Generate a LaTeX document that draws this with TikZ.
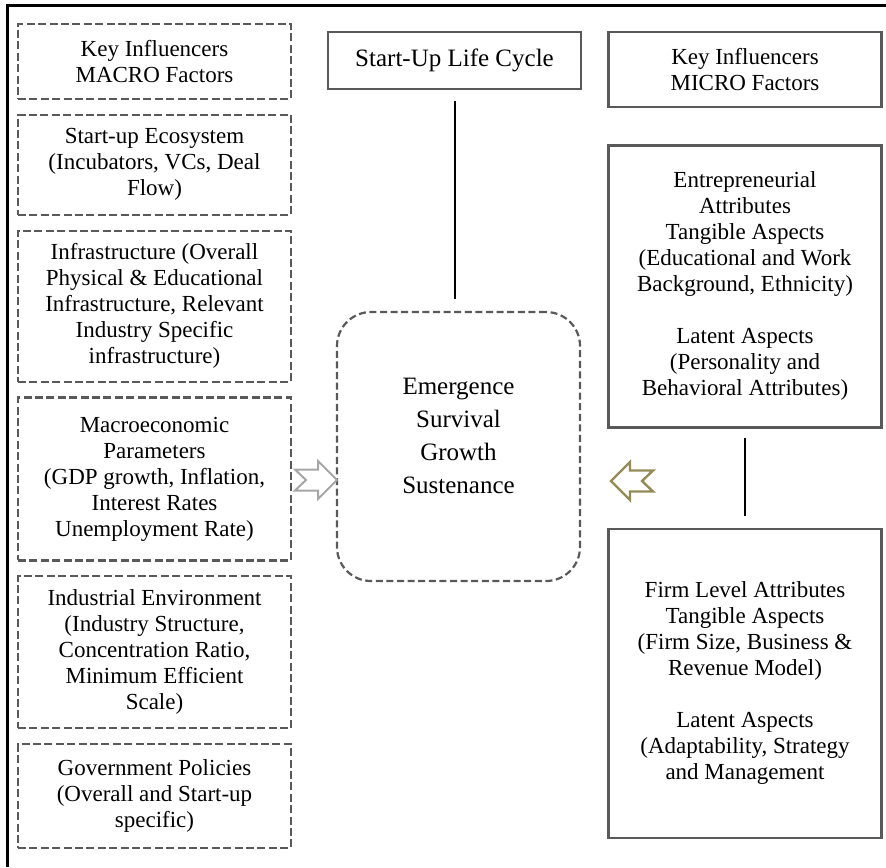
\documentclass[tikz,border=0pt]{standalone}
\usepackage{fontspec}
\setmainfont{Liberation Serif}
\usetikzlibrary{positioning}

\definecolor{boxgray}{HTML}{595959}
\definecolor{arrowgray}{HTML}{A6A6A6}
\definecolor{olivetan}{HTML}{948A54}

\tikzset{
	hollowarrow/.pic={
		\draw (0,0) -- (-19,-19) -- (-19,-10.5) -- (-42,-10.5) -- (-31,0)
			-- (-42,10.5) -- (-19,10.5) -- (-19,19) -- cycle;
	}
}

\begin{document}
\begin{tikzpicture}[x=0.5pt, y=-0.5pt, node distance=6.8pt,
	every node/.style={font=\fontsize{11.5}{13}\selectfont, align=center},
	macro/.style={draw=boxgray, line width=1.1pt, dash pattern=on 4pt off 1.7pt, minimum width=136.5pt},
	micro/.style={draw=boxgray, line width=1.2pt, minimum width=136.5pt},
	stage/.style={draw=boxgray, line width=1pt, minimum width=126.5pt, minimum height=28.5pt,
		font=\fontsize{12.5}{15}\selectfont},
	cycle/.style={draw=boxgray, line width=1.1pt, dash pattern=on 3.5pt off 1.8pt, rounded corners=17pt,
		minimum width=121.5pt, minimum height=134.5pt},
	cycletext/.style={font=\fontsize{12.5}{16.5}\selectfont}]
	\useasboundingbox (0,0) rectangle (886,867);

	% Frame
	\draw [line width=1.5pt] (7,867) |- (886,5);

	% Nodes {macro factors}
	\node [macro, minimum height=37.5pt]	(mac)		at (154.5,61.5)		{Key Influencers\\MACRO Factors};
	\node [macro, minimum height=50pt]		(eco)		[below=of mac]		{Start-up Ecosystem\\(Incubators, VCs, Deal\\Flow)};
	\node [macro, minimum height=75.5pt]	(infra)		[below=of eco]		{Infrastructure (Overall\\Physical \& Educational\\Infrastructure, Relevant\\Industry Specific\\infrastructure)};
	\node [macro, minimum height=81.5pt]	(econ)		[below=of infra]	{Macroeconomic\\Parameters\\(GDP growth, Inflation,\\Interest Rates\\Unemployment Rate)};
	\node [macro, minimum height=76pt]		(indus)		[below=of econ]		{Industrial Environment\\(Industry Structure,\\Concentration Ratio,\\Minimum Efficient\\Scale)};
	\node [macro, minimum height=52pt]		(govt)		[below=of indus]	{Government Policies\\(Overall and Start-up\\specific)};

	% Nodes {life cycle}
	\node [stage]							(life)		at (454.5,60.5)		{Start-Up Life Cycle};
	\node [cycle]							(core)		at (458.5,446.5)	{};
	\node [cycletext]						(stages)	at ([yshift=5.5pt]core.center) {Emergence\\Survival\\Growth\\Sustenance};

	% Nodes {micro factors}
	\node [micro, minimum height=37.5pt]	(mic)		at (745,69.5)		{Key Influencers\\MICRO Factors};
	\node [micro, minimum height=141pt]		(entre)		[below=18pt of mic]	{Entrepreneurial\\Attributes\\Tangible Aspects\\(Educational and Work\\Background, Ethnicity)\\[13pt]Latent Aspects\\(Personality and\\Behavioral Attributes)};
	\node [micro, minimum height=154.5pt]	(firm)		[below=49.5pt of entre] {Firm Level Attributes\\Tangible Aspects\\(Firm Size, Business \&\\Revenue Model)\\[13pt]Latent Aspects\\(Adaptability, Strategy\\and Management};

	% Paths
	\draw [line width=1pt, shorten <=5.5pt, shorten >=6pt]	(life.south) -- (life.south |- core.north);
	\draw [line width=1pt, shorten <=4.5pt, shorten >=6pt]	(entre.south) -- (entre.south |- firm.north);

	% Arrows
	\pic [arrowgray, line width=1pt]			at (337,480) {hollowarrow};
	\pic [olivetan, line width=1.2pt, xscale=-1]	at (611,481) {hollowarrow};
\end{tikzpicture}
\end{document}
